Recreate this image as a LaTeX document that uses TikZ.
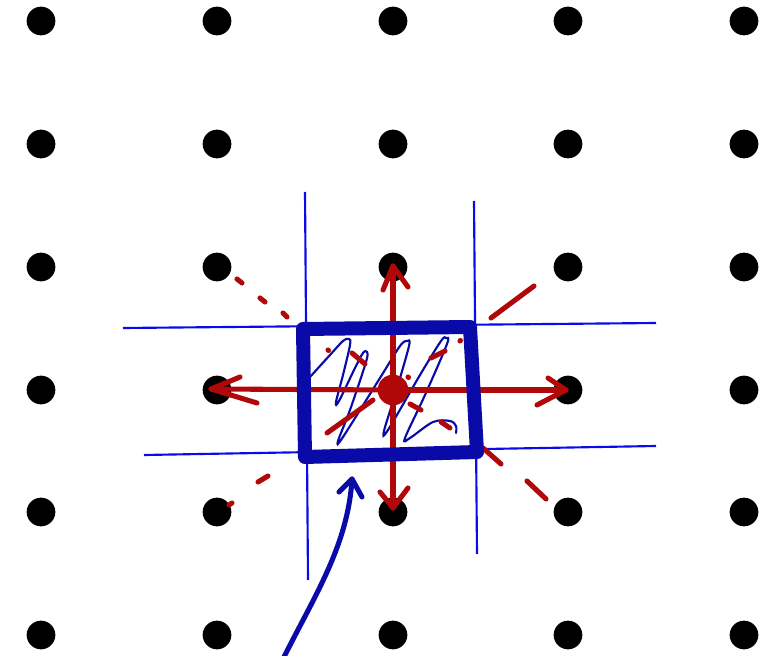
\documentclass[tikz,border=0pt]{standalone}
\usetikzlibrary{arrows.meta}
\definecolor{penred}{RGB}{176,8,8}
\definecolor{darkblue}{RGB}{10,10,168}
\definecolor{thinblue}{RGB}{10,10,235}
\begin{document}
\begin{tikzpicture}[x=0.75pt,y=-0.75pt,
  gdot/.style={circle,fill=black,draw=none,minimum size=21.5pt,inner sep=0pt},
  cdot/.style={circle,fill=penred,draw=none,minimum size=23pt,inner sep=0pt},
  gridline/.style={draw=thinblue,line width=1.6pt},
  redpen/.style={draw=penred,line width=3.8pt,line cap=round,line join=round},
  reddash/.style={draw=penred,line width=3.8pt,line cap=round},
  scrib/.style={draw=darkblue,line width=1.6pt,line cap=round},
  boxpen/.style={draw=darkblue,line width=10.5pt,line join=round,line cap=round},
  bluepen/.style={draw=darkblue,line width=3.8pt,line cap=round,line join=round}]
\useasboundingbox (0,0) rectangle (765,656);
% dot grid
\foreach \i/\x in {1/41,2/217,3/393,4/568,5/744}{
  \foreach \j/\y in {1/21,2/144,3/267,4/390,5/512,6/635}{
    \node[gdot] (d\i\j) at (\x,\y) {};
  }
}
% thin blue grid lines
\coordinate (vl1) at (305,192); \coordinate (vl2) at (308,580);
\coordinate (vr1) at (474,201); \coordinate (vr2) at (477,554);
\coordinate (ht1) at (123,328); \coordinate (ht2) at (656,323);
\coordinate (hb1) at (144,455); \coordinate (hb2) at (656,446);
\draw[gridline] (vl1) -- (vl2);
\draw[gridline] (vr1) -- (vr2);
\draw[gridline] (ht1) -- (ht2);
\draw[gridline] (hb1) -- (hb2);
% scribble
\draw[scrib] plot[smooth,tension=0.55] coordinates {(310,377) (330,355) (343,341) (349,339) (350,345) (343,375) (336,402) (339,401) (355,368) (363,353) (367,352) (366,362) (350,410) (338,441) (343,437) (380,378) (400,346) (407,341) (409,346) (395,395) (384,431) (388,430) (420,375) (441,341) (446,338) (447,344) (425,395) (405,438) (410,438) (433,422) (450,421) (456,426) (456,433)};
% red center dot and arrows
\node[cdot] (c) at (393,390) {};
\coordinate (tu) at (393,266);
\coordinate (tl) at (211,389);
\coordinate (tr) at (566,390);
\coordinate (td) at (393,508);
\draw[redpen] (c) -- (tu);
\draw[redpen] (383,290) -- (tu) -- (408,287);
\draw[redpen] (c) -- (tl);
\draw[redpen] (240,377) -- (tl) -- (257,403);
\draw[redpen] (c) -- (tr);
\draw[redpen] (548,378) -- (tr) -- (537,405);
\draw[redpen] (c) -- (td);
\draw[redpen] (380,492) -- (td) -- (408,488);
% red dashed diagonals
\draw[reddash] (237,279) -- (242,283);
\draw[reddash] (260,298) -- (265,302);
\draw[reddash] (283,313) -- (287,317);
\draw[reddash] (328,350) -- (328.5,350.5);
\draw[reddash] (352,353) -- (365,364);
\draw[reddash] (410,404) -- (421,410);
\draw[reddash] (441,422) -- (450,428);
\draw[reddash] (483,448) -- (501,464);
\draw[reddash] (527,481) -- (546,499);
\draw[reddash] (491,318) -- (534,286);
\draw[reddash] (460,341) -- (460.5,340.5);
\draw[reddash] (431,358) -- (445,351);
\draw[reddash] (408,377) -- (408.5,377.5);
\draw[reddash] (327,433) -- (373,400);
\draw[reddash] (258,482) -- (268,476);
\draw[reddash] (229,505) -- (232,503);
% thick box
\coordinate (b1) at (303,329); \coordinate (b2) at (470,327);
\coordinate (b3) at (477,452); \coordinate (b4) at (305,457);
\draw[boxpen] (b1) -- (b2) -- (b3) -- (b4) -- cycle;
% blue pointer arrow
\coordinate (bs) at (284,657);
\coordinate (tb) at (352,479);
\draw[bluepen] (bs) .. controls (315,595) and (348,545) .. (tb);
\draw[bluepen] (339,492) -- (tb) -- (362,497);
\end{tikzpicture}
\end{document}
